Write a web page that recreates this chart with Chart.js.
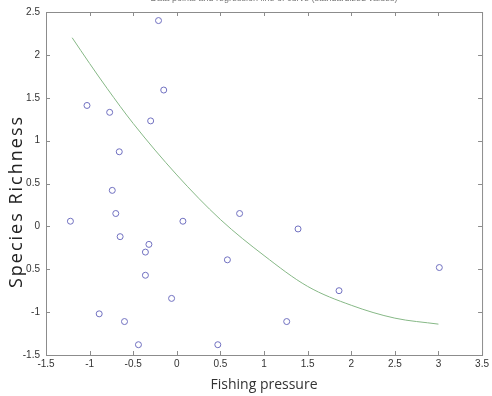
<!DOCTYPE html>
<html>
<head>
<meta charset="utf-8">
<script src="https://cdn.jsdelivr.net/npm/chart.js@4.4.1/dist/chart.umd.min.js"></script>
<style>
  html, body { margin: 0; padding: 0; background: #fff; }
  #wrap { width: 492px; height: 396px; position: relative; }
</style>
</head>
<body>
<div id="wrap"><canvas id="myChart"></canvas></div>
<script>
// observed data points (standardized values)
const fishing = [-0.21, -0.15, -1.03, -0.77, -0.30, -0.66, -0.74, -0.70, -1.22, 0.07, 0.72, -0.65, -0.32, -0.36, 0.58, -0.36, -0.06, -0.89, -0.60, -0.44, 0.47, 1.39, 3.01, 1.86, 1.26];
const richness = [2.40, 1.59, 1.41, 1.33, 1.23, 0.87, 0.42, 0.15, 0.06, 0.06, 0.15, -0.12, -0.21, -0.30, -0.39, -0.57, -0.84, -1.02, -1.11, -1.38, -1.38, -0.03, -0.48, -0.75, -1.11];

// regression curve
const curveX = [-1.2, -1.0, -0.8, -0.5, 0, 0.5, 1.0, 1.5, 2.0, 2.5, 3.0];
const curveY = [2.20, 1.90, 1.61, 1.20, 0.60, 0.08, -0.34, -0.70, -0.92, -1.07, -1.14];

const xTickLabels = ["-1.5", "-1", "-0.5", "0", "0.5", "1", "1.5", "2", "2.5", "3", "3.5"];
const yTickLabels = ["-1.5", "-1", "0.5", "0", "0.5", "1", "1.5", "2", "2.5"];

const titleText = "Data points and regression line of curve (standardized values)";
const yTitle = "Species Richness";

// box with inward tick marks on all four sides, matlab style
const boxPlugin = {
  id: "box",
  afterDraw(chart) {
    const ctx = chart.ctx;
    const a = chart.chartArea;
    const xs = chart.scales.x;
    const ys = chart.scales.y;
    ctx.save();
    ctx.strokeStyle = "#8c8c8c";
    ctx.lineWidth = 1;
    ctx.strokeRect(a.left + 0.5, a.top + 0.5, a.right - a.left, a.bottom - a.top);
    ctx.beginPath();
    xs.ticks.forEach((t) => {
      const px = Math.round(xs.getPixelForValue(t.value)) + 0.5;
      ctx.moveTo(px, a.bottom); ctx.lineTo(px, a.bottom - 4);
      ctx.moveTo(px, a.top); ctx.lineTo(px, a.top + 4);
    });
    ys.ticks.forEach((t) => {
      const py = Math.round(ys.getPixelForValue(t.value)) + 0.5;
      ctx.moveTo(a.left, py); ctx.lineTo(a.left + 4, py);
      ctx.moveTo(a.right, py); ctx.lineTo(a.right - 4, py);
    });
    ctx.stroke();

    // title, cut off at the top of the picture
    ctx.fillStyle = "#777";
    ctx.font = "9px 'Liberation Sans', Arial, sans-serif";
    ctx.textAlign = "center";
    ctx.textBaseline = "middle";
    ctx.fillText(titleText, (a.left + a.right) / 2 + 10, -1);

    // y title, a bit spaced out like the original
    ctx.translate(17, (a.top + a.bottom) / 2 + 18);
    ctx.rotate(-Math.PI / 2);
    ctx.fillStyle = "#222";
    ctx.font = "18px 'Open Sans', sans-serif";
    ctx.letterSpacing = "2px";
    ctx.fillText(yTitle, 0, 0);
    ctx.restore();
  },
};

const data = {
  datasets: [
    {
      label: "curve",
      data: curveX.map((x, i) => ({ x: x, y: curveY[i] })),
      showLine: true,
      borderColor: "#86b886",
      borderWidth: 1,
      pointRadius: 0,
      cubicInterpolationMode: "monotone",
      fill: false,
    },
    {
      label: "points",
      data: fishing.map((x, i) => ({ x: x, y: richness[i] })),
      borderColor: "#7070c0",
      backgroundColor: "rgba(0,0,0,0)",
      borderWidth: 1,
      pointRadius: 3,
    },
  ],
};

const tickFont = { family: "'Liberation Sans', Arial, sans-serif", size: 10 };

const config = {
  type: "scatter",
  data: data,
  options: {
    responsive: false,
    animation: false,
    layout: { padding: { top: 11, right: 9, left: 0, bottom: 0 } },
    plugins: { legend: { display: false }, tooltip: { enabled: false } },
    scales: {
      x: {
        min: -1.5,
        max: 3.5,
        ticks: {
          stepSize: 0.5,
          color: "#333",
          font: tickFont,
          padding: 3,
          maxRotation: 0,
          callback: (v, i) => xTickLabels[i],
        },
        grid: { display: false, drawTicks: false },
        border: { display: false },
        title: {
          display: true,
          text: "Fishing pressure",
          color: "#333",
          font: { family: "'Open Sans', sans-serif", size: 14 },
          padding: { top: 0, bottom: 3 },
        },
        afterFit: (s) => { s.height = 41; },
      },
      y: {
        min: -1.5,
        max: 2.5,
        ticks: {
          stepSize: 0.5,
          color: "#333",
          font: tickFont,
          padding: 6,
          callback: (v, i) => yTickLabels[i],
        },
        grid: { display: false, drawTicks: false },
        border: { display: false },
        afterFit: (s) => { s.width = 46; },
      },
    },
  },
  plugins: [boxPlugin],
};

const canvas = document.getElementById("myChart");
canvas.width = 492;
canvas.height = 396;
new Chart(canvas.getContext("2d"), config);
</script>
</body>
</html>
